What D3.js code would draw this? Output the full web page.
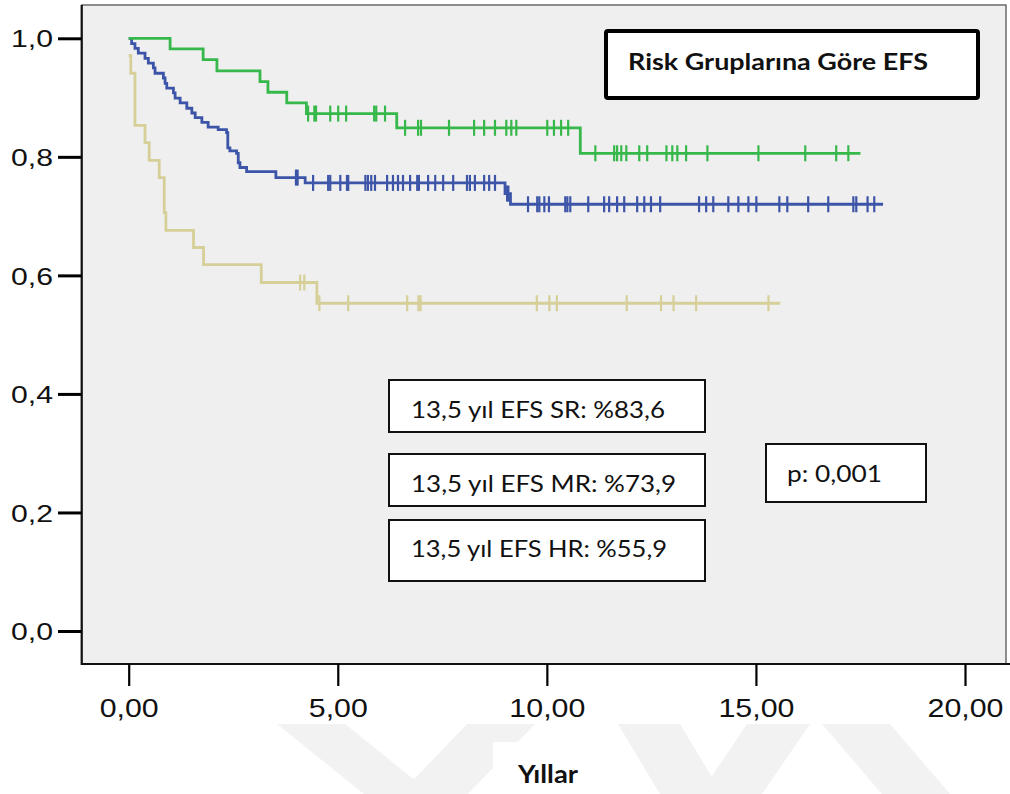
<!DOCTYPE html>
<html>
<head>
<meta charset="utf-8">
<script src="https://cdn.jsdelivr.net/npm/d3@7"></script>
<style>
  body { margin: 0; background: #fff; }
  svg { display: block; }
</style>
</head>
<body>
<svg id="chart" width="1010" height="794"></svg>
<script>
// axis ticks
const xTicks = [0, 5, 10, 15, 20];
const yTicks = [0, 0.2, 0.4, 0.6, 0.8, 1.0];

// Kaplan-Meier steps: [time (years), EFS]
const srSteps = [[0, 1], [0.99, 0.982], [1.78, 0.964], [2.11, 0.945], [3.14, 0.927], [3.33, 0.909],
  [3.78, 0.891], [4.25, 0.873], [6.41, 0.849], [10.80, 0.806]];
const srEnd = 17.50;
const srCensored = [4.29, 4.44, 4.48, 4.82, 5.01, 5.20, 5.87, 5.92, 6.13, 6.61, 6.92, 6.99, 7.66, 8.26,
  8.50, 8.76, 9.03, 9.15, 9.27, 10.01, 10.17, 10.34, 10.51, 11.16, 11.61, 11.68, 11.78, 11.90, 12.21,
  12.40, 12.86, 13.00, 13.12, 13.33, 13.84, 15.06, 16.18, 16.92, 17.21];

const mrSteps = [[0, 1], [0.07, 0.991], [0.15, 0.983], [0.23, 0.975], [0.39, 0.966], [0.47, 0.958],
  [0.59, 0.950], [0.63, 0.941], [0.83, 0.933], [0.87, 0.924], [0.91, 0.916], [1.07, 0.908],
  [1.11, 0.899], [1.23, 0.891], [1.39, 0.882], [1.51, 0.874], [1.59, 0.866], [1.75, 0.858],
  [1.90, 0.850], [2.14, 0.846], [2.34, 0.841], [2.37, 0.815], [2.42, 0.810], [2.58, 0.806],
  [2.62, 0.790], [2.66, 0.782], [2.82, 0.775], [3.52, 0.765], [4.22, 0.756], [9.00, 0.738],
  [9.13, 0.720]];
const mrEnd = 18.04;
const mrCensored = [4.00, 4.04, 4.41, 4.77, 4.82, 5.06, 5.22, 5.25, 5.66, 5.72, 5.80, 5.89, 6.18,
  6.32, 6.44, 6.56, 6.73, 6.90, 6.94, 7.16, 7.33, 7.52, 7.76, 8.09, 8.16, 8.28, 8.50, 8.62, 8.76,
  9.05, 9.08, 9.55, 9.77, 9.82, 9.94, 10.05, 10.44, 10.49, 10.56, 10.99, 11.37, 11.49, 11.68, 11.85,
  12.16, 12.33, 12.49, 12.71, 13.64, 13.81, 13.98, 14.34, 14.58, 14.82, 15.01, 15.56, 15.75, 16.25,
  16.73, 17.33, 17.40, 17.67, 17.83];

const hrSteps = [[0, 0.971], [0.05, 0.941], [0.15, 0.853], [0.39, 0.824], [0.49, 0.794], [0.73, 0.765],
  [0.85, 0.706], [0.89, 0.676], [1.55, 0.647], [1.79, 0.618], [3.17, 0.588], [4.50, 0.553]];
const hrEnd = 15.58;
const hrCensored = [4.10, 4.20, 4.56, 5.25, 6.66, 6.93, 6.98, 9.76, 10.06, 10.24, 11.91, 12.73,
  13.03, 13.57, 15.30];

const statLines = ['13,5 yıl EFS SR: %83,6', '13,5 yıl EFS MR: %73,9', '13,5 yıl EFS HR: %55,9'];
const titleText = 'Risk Gruplarına Göre EFS';
const pText = 'p: 0,001';
const xTitle = 'Yıllar';

const svg = d3.select('#chart');
const frame = { left: 81.7, top: 5, right: 1006, bottom: 664 };

const x = d3.scaleLinear().domain([0, 20]).range([128.7, 965]);
const y = d3.scaleLinear().domain([0, 1]).range([631, 38.3]);

// faint watermark behind the x axis area
const wm = svg.append('g').attr('fill', '#f2f2f2');
[
  [[277, 724], [345, 724], [432, 794], [364, 794]],
  [[535, 724], [467, 724], [400, 794], [468, 794]],
  [[618, 724], [680, 724], [722, 794], [660, 794]],
  [[747, 724], [810, 724], [762, 794], [700, 794]],
  [[822, 724], [890, 724], [950, 794], [882, 794]]
].forEach(p => wm.append('polygon').attr('points', p.map(d => d.join(',')).join(' ')));
svg.append('rect').attr('x', 493).attr('y', 742).attr('width', 112).attr('height', 52).attr('fill', '#fff');

// plot frame
svg.append('rect')
  .attr('x', frame.left).attr('y', frame.top)
  .attr('width', frame.right - frame.left).attr('height', frame.bottom - frame.top)
  .attr('fill', '#efefef').attr('stroke', '#555').attr('stroke-width', 1.3);
svg.append('line').attr('x1', frame.left).attr('x2', frame.left).attr('y1', frame.top).attr('y2', frame.bottom + 1)
  .attr('stroke', '#111').attr('stroke-width', 2.2);
svg.append('line').attr('x1', frame.left).attr('x2', 1010).attr('y1', frame.bottom).attr('y2', frame.bottom)
  .attr('stroke', '#111').attr('stroke-width', 2.2);

// axes
const yAxis = svg.append('g').attr('transform', `translate(${frame.left},0)`)
  .call(d3.axisLeft(y).tickValues(yTicks).tickSize(23.7).tickPadding(5)
    .tickFormat(d => d.toFixed(1).replace('.', ',')));
yAxis.select('.domain').remove();
yAxis.selectAll('.tick line').attr('stroke', '#000').attr('stroke-width', 3);
yAxis.selectAll('.tick text')
  .attr('font-family', '"Liberation Sans", Arial, sans-serif').attr('font-size', 24)
  .attr('fill', '#111').attr('dy', '0.36em')
  .attr('textLength', 42).attr('lengthAdjust', 'spacingAndGlyphs');

const xAxis = svg.append('g').attr('transform', `translate(0,${frame.bottom})`)
  .call(d3.axisBottom(x).tickValues(xTicks).tickSize(22).tickPadding(13)
    .tickFormat(d => d.toFixed(2).replace('.', ',')));
xAxis.select('.domain').remove();
xAxis.selectAll('.tick line').attr('stroke', '#000').attr('stroke-width', 2.2);
xAxis.selectAll('.tick text')
  .attr('font-family', '"Liberation Sans", Arial, sans-serif').attr('font-size', 25)
  .attr('fill', '#111')
  .attr('textLength', d => d >= 10 ? 76 : 59).attr('lengthAdjust', 'spacingAndGlyphs');

// survival curves
const line = d3.line().x(d => x(d[0])).y(d => y(d[1])).curve(d3.curveStepAfter);
function valueAt(steps, t) {
  let v = steps[0][1];
  steps.forEach(s => { if (s[0] <= t) v = s[1]; });
  return v;
}

const series = [
  { steps: hrSteps, end: hrEnd, cens: hrCensored, color: '#d6cf98' },
  { steps: mrSteps, end: mrEnd, cens: mrCensored, color: '#3d55a8' },
  { steps: srSteps, end: srEnd, cens: srCensored, color: '#37b84a' }
];

series.forEach(s => {
  const pts = s.steps.concat([[s.end, s.steps[s.steps.length - 1][1]]]);
  const g = svg.append('g');
  g.append('path').datum(pts).attr('d', line)
    .attr('fill', 'none').attr('stroke', s.color).attr('stroke-width', 2.8);
  g.selectAll('line').data(s.cens).join('line')
    .attr('x1', d => x(d)).attr('x2', d => x(d))
    .attr('y1', d => y(valueAt(s.steps, d)) - 8)
    .attr('y2', d => y(valueAt(s.steps, d)) + 8)
    .attr('stroke', s.color).attr('stroke-width', 2.2);
});

// annotation boxes
const boxFont = 'Lato, "Open Sans", sans-serif';

svg.append('rect').attr('x', 606).attr('y', 31).attr('width', 372).attr('height', 67).attr('rx', 2)
  .attr('fill', '#fff').attr('stroke', '#000').attr('stroke-width', 4);
svg.append('text').attr('x', 628).attr('y', 70).text(titleText)
  .attr('font-family', boxFont).attr('font-weight', 'bold').attr('font-size', 23).attr('fill', '#111')
  .attr('textLength', 300).attr('lengthAdjust', 'spacingAndGlyphs');

const statBoxes = [
  { y: 380, h: 52, base: 418, w: 254 },
  { y: 454, h: 52, base: 492, w: 265 },
  { y: 520, h: 61, base: 557, w: 256 }
];
statLines.forEach((t, i) => {
  const b = statBoxes[i];
  svg.append('rect').attr('x', 389).attr('y', b.y).attr('width', 316).attr('height', b.h)
    .attr('fill', '#fff').attr('stroke', '#111').attr('stroke-width', 2);
  svg.append('text').attr('x', 411).attr('y', b.base).text(t)
    .attr('font-family', boxFont).attr('font-size', 23).attr('fill', '#111')
    .attr('textLength', b.w).attr('lengthAdjust', 'spacingAndGlyphs');
});

svg.append('rect').attr('x', 766).attr('y', 444).attr('width', 160).attr('height', 58)
  .attr('fill', '#fff').attr('stroke', '#111').attr('stroke-width', 2);
svg.append('text').attr('x', 787).attr('y', 482).text(pText)
  .attr('font-family', boxFont).attr('font-size', 23).attr('fill', '#111')
  .attr('textLength', 95).attr('lengthAdjust', 'spacingAndGlyphs');

svg.append('text').attr('x', 518).attr('y', 783).text(xTitle)
  .attr('font-family', boxFont).attr('font-weight', 'bold').attr('font-size', 24).attr('fill', '#111')
  .attr('textLength', 60).attr('lengthAdjust', 'spacingAndGlyphs');
</script>
</body>
</html>
